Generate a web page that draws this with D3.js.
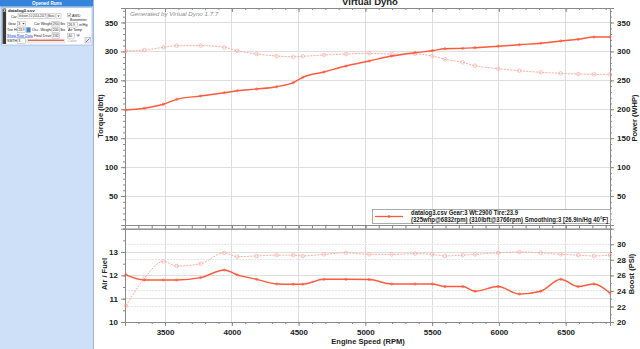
<!DOCTYPE html>
<html><head><meta charset="utf-8">
<script src="https://cdn.jsdelivr.net/npm/d3@7"></script>
<style>
html,body{margin:0;padding:0;background:#fff;overflow:hidden}
svg{display:block;font-family:"Liberation Sans",Arial,sans-serif}
</style></head><body>
<svg id="c" width="640" height="349"></svg>
<script>
// Run samples (engine speed, RPM)
const rpm = [3207,3345,3487,3587,3766,3944,4041,4186,4336,4460,4531,4690,4855,5029,
             5197,5372,5501,5596,5729,5821,5995,6153,6313,6463,6594,6712,6832];
// Torque (lbft) and power (WHP)
const torque = [300.7,302.4,307,309.8,310,307,301.2,295.5,292,290.8,291.5,293.8,295.5,296.7,
                295.5,295.5,292,286.3,281.1,275.3,270.1,266.6,263.9,262.1,260.9,260.4,260.4];
const power = [198.7,201.7,208.6,217.2,222.9,228.6,232,235,239,245.9,255.2,264.4,274.7,283.4,
               292,297.8,301.2,304.7,305.3,306.4,308.8,311.6,314,318,320.9,324.9,325];
// Air / fuel ratio and boost (PSI)
const afr = [12.02,11.8,11.8,11.8,11.9,12.23,12.02,11.83,11.63,11.62,11.62,11.83,11.83,11.82,
             11.63,11.63,11.63,11.52,11.52,11.32,11.52,11.2,11.32,11.83,11.52,11.63,11.24];
const boost = [22.06,25.6,27.8,27.2,27.5,28.9,28.4,28.5,28.6,28.6,28.5,28.7,28.9,28.7,
               28.7,28.8,28.7,28.5,28.6,28.7,28.9,29.0,28.9,28.7,28.6,28.5,28.6];

const rpmTicks = [3500,4000,4500,5000,5500,6000,6500];
const torqueTicks = [50,100,150,200,250,300,350];
const powerTicks = [50,100,150,200,250,300,350];
const afrTicks = [10,11,12,13];
const boostTicks = [20,22,24,26,28,30];

const legendLines = ["datalog3.csv Gear:3 Wt:2900 Tire:23.9",
                     "(325whp@6832rpm) (310lbft@3766rpm) Smoothing:3 [26.9in/Hg 40°F]"];

const SOLID = "#ff5a3d", LIGHT = "#ffaca2", GRID = "#dedede", AX = "#8a8a8a";

const svg = d3.select("#c");

// ---------- side panel ----------
const p = svg.append("g").attr("font-size", 4.2).attr("fill", "#222");
p.append("rect").attr("x",0).attr("y",0).attr("width",93).attr("height",349).attr("fill","#cde0f7");
p.append("line").attr("x1",93.5).attr("x2",93.5).attr("y1",0).attr("y2",349).attr("stroke","#9fb8d8");
p.append("rect").attr("x",0).attr("y",0).attr("width",93).attr("height",6.5).attr("fill","#3584dc");
p.append("text").attr("x",47).attr("y",5).attr("text-anchor","middle").attr("fill","#fff")
  .attr("font-weight","bold").attr("font-size",4.6).text("Opened Runs");
p.append("rect").attr("x",1.5).attr("y",7.5).attr("width",90.5).attr("height",37.5)
  .attr("fill","#fff").attr("stroke","#8fb0d8").attr("stroke-width",0.6);
p.append("rect").attr("x",2.5).attr("y",8.5).attr("width",3.6).attr("height",35.5).attr("fill","#3a3a3a");
p.append("text").attr("x",4.3).attr("y",11.5).attr("text-anchor","middle").attr("fill","#fff")
  .attr("font-size",3.5).attr("font-weight","bold").text("X");
p.append("text").attr("x",8).attr("y",11.8).attr("font-weight","bold").attr("font-size",4.4).text("datalog3.csv");

function box(x, y, w, h, t, fill) {
  p.append("rect").attr("x",x).attr("y",y).attr("width",w).attr("height",h)
    .attr("fill",fill || "#fff").attr("stroke","#9a9a9a").attr("stroke-width",0.4);
  if (t) {
    const tx = p.append("text").attr("x",x+0.8).attr("y",y+h-1.2).attr("font-size",3.4).text(t);
    const len = tx.node().getComputedTextLength();
    if (len > w - 1.6) tx.attr("textLength", w - 1.6).attr("lengthAdjust","spacingAndGlyphs");
  }
}
function arrow(cx, cy) {
  p.append("path").attr("d",`M${cx-1.2},${cy-0.6} L${cx+1.2},${cy-0.6} L${cx},${cy+0.8} Z`).attr("fill","#444");
}
function lab(x, y, t, c) {
  p.append("text").attr("x",x).attr("y",y).attr("font-size",3.6).attr("fill",c||"#222").text(t);
}
lab(11,17.5,"Car"); box(18,13.8,37,4.8,"Veloster 2.0 (2014-2017) (Manu");
box(56,13.8,5,4.8,""); arrow(58.5,16.2);
box(67.5,13.5,3.4,3.4,"");
p.append("path").attr("d","M68.2,15.2 L69.1,16.2 L70.3,14.2").attr("fill","none").attr("stroke","#222").attr("stroke-width",0.5);
lab(72,16.5,"AWD");
lab(70,21,"Barometer");
lab(8,24.5,"Gear"); box(17.5,21.2,8,4.8,"3"); arrow(23.5,23.6);
lab(34,24.5,"Car Weight"); box(52,21.2,7.5,4.8,"2900"); lab(60.5,24.5,"lbs");
box(67.5,22.5,10,4.6,"26.9"); lab(79,26,"in/Hg");
lab(7,30.5,"Tire Ht"); box(17.5,27.5,8,4.8,"23.9");
box(26.5,27.5,4,4.8,"",'#3f86d8');
lab(32,30.5,"Occ. Weight"); box(52,27.5,7.5,4.8,"200"); lab(60.5,30.5,"lbs");
lab(68,30.5,"Air Temp");
p.append("text").attr("x",7).attr("y",36.5).attr("font-size",3.6).attr("fill","#1a3fd0")
  .attr("text-decoration","underline").text("Show Raw Data");
lab(34,36.5,"Final Drive"); box(52,33.3,7.5,4.8,"3.82");
box(67.5,33.3,7,4.8,"40"); lab(76,36.5,"°F");
lab(7,42,"SMTH"); box(17.5,38.8,8,4.6,"3");
p.append("rect").attr("x",27).attr("y",39).attr("width",38).attr("height",4).attr("fill","#f2f2f2").attr("stroke","#bbb").attr("stroke-width",0.3);
p.append("line").attr("x1",28).attr("x2",64).attr("y1",40.3).attr("y2",40.3).attr("stroke","#e03a22").attr("stroke-width",1.1);
lab(68,42,"Color","#999");
p.append("rect").attr("x",85).attr("y",37.5).attr("width",5.5).attr("height",5.5).attr("fill","#ececf6").attr("stroke","#9a8cc8").attr("stroke-width",0.4);
p.append("path").attr("d","M86,42 L89.5,38.5").attr("stroke","#7a5cc0").attr("stroke-width",0.9);

// ---------- scales ----------
const x = d3.scaleLinear().domain([3200, 6832]).range([125, 610]);
const yT = d3.scaleLinear().domain([0, 375]).range([225, 8]);
const yP = d3.scaleLinear().domain([0, 375]).range([225, 8]);
const yA = d3.scaleLinear().domain([10, 14]).range([322, 228.7]);
const yB = d3.scaleLinear().domain([20, 32]).range([322, 228.7]);

const minorRpm = d3.range(3300, 6832, 100);
const plain = d3.format("d");

// ---------- grids ----------
const g = svg.append("g").attr("shape-rendering","crispEdges");
g.selectAll(".hv").data(rpmTicks).join("line")
  .attr("x1",d=>x(d)).attr("x2",d=>x(d)).attr("y1",yT.range()[1]).attr("y2",yT.range()[0]).attr("stroke",GRID);
g.selectAll(".hh").data(torqueTicks).join("line")
  .attr("x1",x.range()[0]).attr("x2",x.range()[1]).attr("y1",d=>yT(d)).attr("y2",d=>yT(d)).attr("stroke",GRID);
const g2 = svg.append("g").attr("shape-rendering","crispEdges");
g2.selectAll(".bv").data(rpmTicks).join("line")
  .attr("x1",d=>x(d)).attr("x2",d=>x(d)).attr("y1",yA.range()[1]).attr("y2",yA.range()[0]).attr("stroke",GRID);
g2.selectAll(".bb").data(boostTicks.filter(d=>d>20)).join("line")
  .attr("x1",x.range()[0]).attr("x2",x.range()[1]).attr("y1",d=>yB(d)).attr("y2",d=>yB(d))
  .attr("stroke","#e4e4e4").attr("stroke-dasharray","1.5,1.5");
g2.selectAll(".ba").data(afrTicks.filter(d=>d>10)).join("line")
  .attr("x1",x.range()[0]).attr("x2",x.range()[1]).attr("y1",d=>yA(d)).attr("y2",d=>yA(d)).attr("stroke",GRID);

// ---------- axes ----------
function styleAxis(sel) {
  sel.selectAll("path").attr("stroke", AX);
  sel.selectAll("line").attr("stroke", AX);
  sel.selectAll("text").attr("font-size", 8).attr("font-weight","bold").attr("fill","#222")
     .attr("font-family",'"Liberation Sans",Arial,sans-serif');
}
function axis(gen, tx, ty) {
  const a = svg.append("g").attr("transform",`translate(${tx},${ty})`).call(gen);
  styleAxis(a);
  return a;
}
const none = () => "";
// top chart frame
axis(d3.axisTop(x).tickValues(minorRpm).tickSize(-2).tickFormat(none), 0, yT.range()[1]);
axis(d3.axisTop(x).tickValues(rpmTicks).tickSize(-4).tickFormat(none), 0, yT.range()[1]);
axis(d3.axisBottom(x).tickValues(minorRpm).tickSize(2).tickFormat(none), 0, yT.range()[0]);
axis(d3.axisBottom(x).tickValues(rpmTicks).tickSize(3).tickFormat(none), 0, yT.range()[0]);
axis(d3.axisLeft(yT).tickValues(d3.range(10, 375, 10)).tickSize(2).tickFormat(none), x.range()[0], 0);
axis(d3.axisLeft(yT).tickValues(torqueTicks).tickSize(4).tickPadding(3).tickFormat(plain), x.range()[0], 0);
axis(d3.axisRight(yP).tickValues(d3.range(10, 375, 10)).tickSize(2).tickFormat(none), x.range()[1], 0);
axis(d3.axisRight(yP).tickValues(powerTicks).tickSize(4).tickPadding(3).tickFormat(plain), x.range()[1], 0);
// bottom chart frame
axis(d3.axisTop(x).tickValues(minorRpm).tickSize(2).tickFormat(none), 0, yA.range()[1]);
axis(d3.axisTop(x).tickValues(rpmTicks).tickSize(3).tickFormat(none), 0, yA.range()[1]);
axis(d3.axisBottom(x).tickValues(minorRpm).tickSize(2).tickFormat(none), 0, yA.range()[0]);
axis(d3.axisBottom(x).tickValues(rpmTicks).tickSize(4).tickPadding(3).tickFormat(plain), 0, yA.range()[0]);
axis(d3.axisLeft(yA).tickValues(d3.range(10, 14.01, 0.5)).tickSize(2).tickFormat(none), x.range()[0], 0);
axis(d3.axisLeft(yA).tickValues(afrTicks).tickSize(4).tickPadding(3).tickFormat(plain), x.range()[0], 0);
axis(d3.axisRight(yB).tickValues(d3.range(20, 32.01, 1)).tickSize(2).tickFormat(none), x.range()[1], 0);
axis(d3.axisRight(yB).tickValues(boostTicks).tickSize(4).tickPadding(3).tickFormat(plain), x.range()[1], 0);

// ---------- series ----------
function series(vals, yScale, color, dashed, r) {
  const pts = rpm.map((d, i) => [d, vals[i]]);
  const line = d3.line().x(d => x(d[0])).y(d => yScale(d[1])).curve(d3.curveMonotoneX);
  svg.append("path").datum(pts).attr("d", line).attr("fill","none").attr("stroke",color)
    .attr("stroke-width", dashed ? 1 : 1.4).attr("stroke-dasharray", dashed ? "2,1.2" : null);
  svg.append("g").selectAll("circle").data(pts).join("circle")
    .attr("cx", d => x(d[0])).attr("cy", d => yScale(d[1])).attr("r", r)
    .attr("fill","none").attr("stroke",color).attr("stroke-width",0.7);
}
series(torque, yT, LIGHT, true, 1.8);
series(power, yP, SOLID, false, 1.1);
series(boost, yB, LIGHT, true, 1.8);
series(afr, yA, SOLID, false, 1.1);

// ---------- titles ----------
const T = svg.append("g").attr("font-weight","bold").attr("fill","#222");
T.append("text").attr("x",370).attr("y",5).attr("text-anchor","middle").attr("font-size",9.5).text("Virtual Dyno");
svg.append("text").attr("x",130).attr("y",16).attr("font-size",6.2).attr("font-style","italic")
  .attr("fill","#8c8c8c").text("Generated by Virtual Dyno 1.7.7");
T.append("text").attr("transform","translate(103,116) rotate(-90)").attr("text-anchor","middle")
  .attr("font-size",7.5).text("Torque (lbft)");
T.append("text").attr("transform","translate(637,118) rotate(-90)").attr("text-anchor","middle")
  .attr("font-size",7.5).text("Power (WHP)");
T.append("text").attr("transform","translate(107,274) rotate(-90)").attr("text-anchor","middle")
  .attr("font-size",7.5).text("Air / Fuel");
T.append("text").attr("transform","translate(634,274) rotate(-90)").attr("text-anchor","middle")
  .attr("font-size",7.5).text("Boost (PSI)");
T.append("text").attr("x",368).attr("y",344).attr("text-anchor","middle").attr("font-size",7.5)
  .text("Engine Speed (RPM)");

// ---------- legend ----------
const L = svg.append("g");
L.append("rect").attr("x",372.5).attr("y",209.5).attr("width",238).attr("height",14)
  .attr("fill","#fff").attr("stroke","#9a9a9a").attr("stroke-width",0.8);
L.append("line").attr("x1",375).attr("x2",403).attr("y1",216.5).attr("y2",216.5).attr("stroke",SOLID).attr("stroke-width",1.3);
L.append("circle").attr("cx",389).attr("cy",216.5).attr("r",1.1).attr("fill","none").attr("stroke",SOLID).attr("stroke-width",0.7);
L.selectAll("text").data(legendLines).join("text")
  .attr("x",411).attr("y",(d,i)=>214.5 + i*7.3).attr("font-size",6.6).attr("font-weight","bold").attr("fill","#222")
  .attr("textLength",(d,i)=> i ? 197 : 107).attr("lengthAdjust","spacingAndGlyphs").text(d=>d);
</script>
</body></html>
